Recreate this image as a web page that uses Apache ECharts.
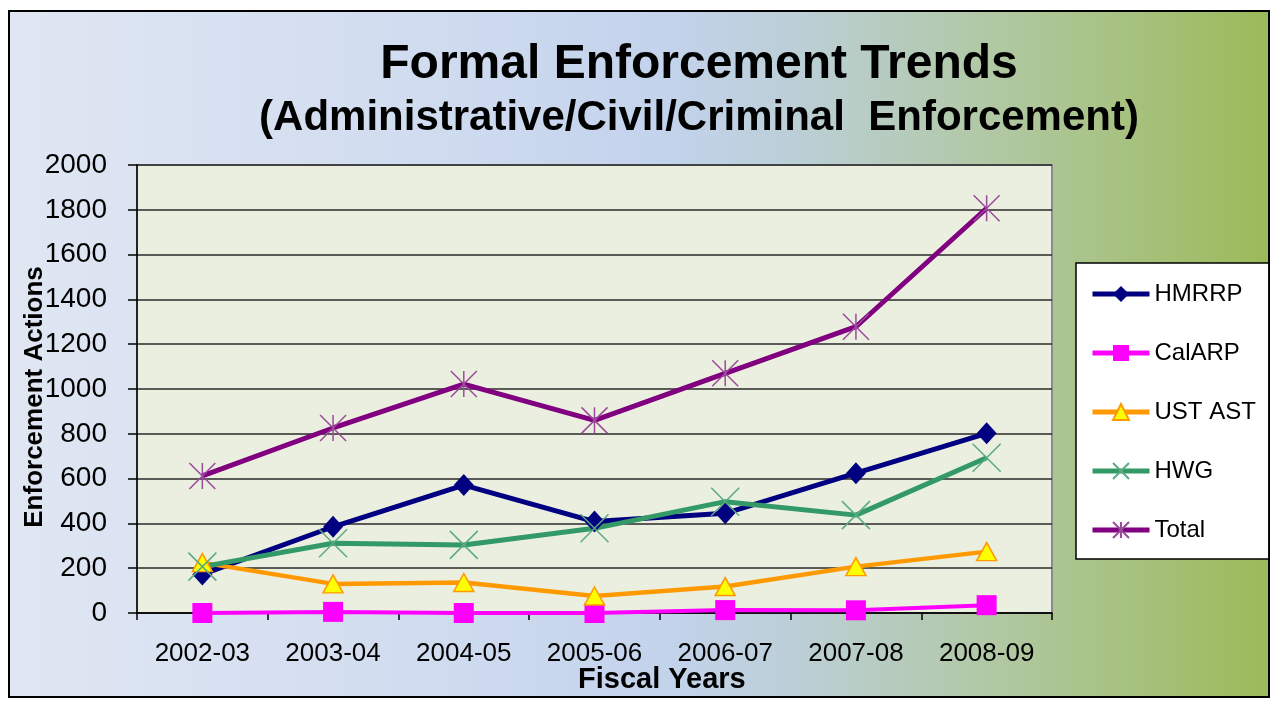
<!DOCTYPE html>
<html>
<head>
<meta charset="utf-8">
<script src="https://cdn.jsdelivr.net/npm/echarts@6/dist/echarts.min.js"></script>
<style>
html,body{margin:0;padding:0;background:#fff;}
#chart{width:1278px;height:702px;}
</style>
</head>
<body>
<div id="chart"></div>
<script>
var categories = ['2002-03','2003-04','2004-05','2005-06','2006-07','2007-08','2008-09'];
var hmrrp  = [172, 385, 571, 408, 445, 624, 802];
var calarp = [0, 5, 0, 0, 13, 12, 35];
var ustast = [225, 130, 136, 76, 118, 207, 274];
var hwg    = [207, 311, 304, 378, 497, 437, 693];
var total  = [612, 826, 1022, 860, 1070, 1278, 1807];
var yTicks = {min: 0, max: 2000, interval: 200};

var FONT = 'Liberation Sans, Arial, sans-serif';
var chart = echarts.init(document.getElementById('chart'));

function series(name, data, lineColor, width, symbol, size, itemStyle) {
  return {
    name: name, type: 'line', data: data,
    symbol: symbol, symbolSize: size,
    lineStyle: {color: lineColor, width: width},
    itemStyle: itemStyle,
    color: lineColor,
    emphasis: {disabled: true},
    animation: false
  };
}

var option = {
  animation: false,
  backgroundColor: '#ffffff',
  textStyle: {fontFamily: FONT},
  graphic: [
    {type: 'rect', z: -100, silent: true,
     shape: {x: 9, y: 11, width: 1260, height: 686},
     style: {
       fill: {type: 'linear', x: 0, y: 0, x2: 1, y2: 0,
         colorStops: [
           {offset: 0, color: '#e0e7f3'},
           {offset: 0.35, color: '#cfdbef'},
           {offset: 0.52, color: '#c3d3ec'},
           {offset: 0.62, color: '#bccfd8'},
           {offset: 0.78, color: '#b1c8a4'},
           {offset: 1, color: '#9bbb59'}
         ]},
       stroke: '#000', lineWidth: 2
     }},
    {type: 'text', left: 578, top: 665, z: 10,
     style: {text: 'Fiscal Years', font: 'bold 29px ' + FONT, fill: '#000'}}
  ],
  title: [
    {text: 'Formal Enforcement Trends', left: 694, top: 36, textAlign: 'center',
     textStyle: {fontFamily: FONT, fontSize: 48, fontWeight: 'bold', color: '#000'}},
    {text: '(Administrative/Civil/Criminal  Enforcement)', left: 694, top: 92, textAlign: 'center',
     textStyle: {fontFamily: FONT, fontSize: 42, fontWeight: 'bold', color: '#000'}}
  ],
  legend: {
    orient: 'vertical', left: 1076, top: 263,
    padding: [18, 13, 16, 14],
    backgroundColor: '#ffffff', borderColor: '#000', borderWidth: 1.5,
    itemWidth: 57, itemHeight: 20, itemGap: 33,
    lineStyle: {width: 5},
    textStyle: {fontFamily: FONT, fontSize: 24, lineHeight: 26, color: '#000'},
    data: ['HMRRP','CalARP','UST AST','HWG','Total']
  },
  grid: {
    left: 137, right: 226, top: 165, bottom: 89,
    show: true, backgroundColor: '#ebefdf', borderColor: '#8a8a8a', borderWidth: 2
  },
  xAxis: {
    type: 'category', data: categories, boundaryGap: true,
    axisLine: {lineStyle: {color: '#000', width: 1.5}},
    axisTick: {show: true, length: 7, lineStyle: {color: '#000', width: 1.5}},
    axisLabel: {fontFamily: FONT, fontSize: 26, color: '#000', margin: 28}
  },
  yAxis: {
    type: 'value', min: yTicks.min, max: yTicks.max, interval: yTicks.interval,
    name: 'Enforcement Actions', nameLocation: 'middle', nameGap: 89,
    nameMoveOverlap: false,
    nameTextStyle: {fontFamily: FONT, fontSize: 26, fontWeight: 'bold', color: '#000',
      padding: [0, 16, 0, 0]},
    axisLine: {show: true, lineStyle: {color: '#000', width: 1.5}},
    axisTick: {show: true, length: 9, lineStyle: {color: '#000', width: 1.5}},
    axisLabel: {fontFamily: FONT, fontSize: 28, color: '#000', margin: 30,
      formatter: function (v) { return String(v); }},
    splitLine: {show: true, lineStyle: {color: '#2a2a2a', width: 1.5}}
  },
  series: [
    series('HMRRP', hmrrp, '#000080', 5, 'diamond', [20, 22], {color: '#000080'}),
    series('CalARP', calarp, '#ff00ff', 4, 'rect', 20, {color: '#ff00ff'}),
    series('UST AST', ustast, '#ff9900', 4.5, 'triangle', [20, 18],
      {color: '#ffff00', borderColor: '#ff9900', borderWidth: 1.5}),
    series('HWG', hwg, '#339966', 5, 'path://M0 0L10 10M10 0L0 10', 28,
      {color: 'rgba(0,0,0,0)', borderColor: '#5aaa84', borderWidth: 1.5}),
    series('Total', total, '#800080', 5, 'path://M0 0L10 10M10 0L0 10M5 0L5 10', 26,
      {color: 'rgba(0,0,0,0)', borderColor: '#9c4a9c', borderWidth: 1.5})
  ]
};
chart.setOption(option);
</script>
</body>
</html>
